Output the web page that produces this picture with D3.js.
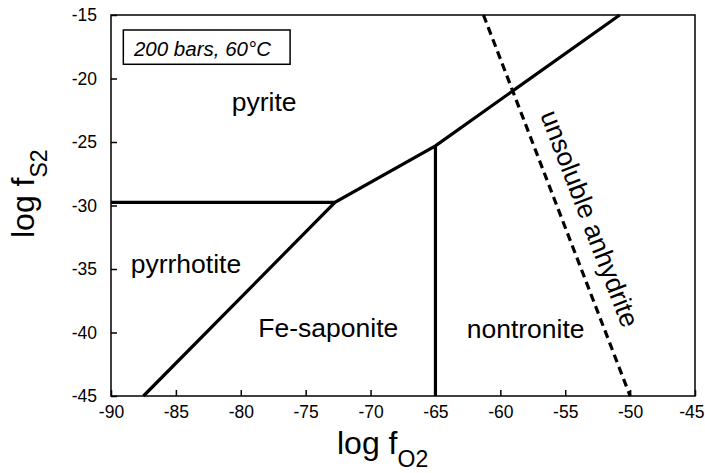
<!DOCTYPE html>
<html>
<head>
<meta charset="utf-8">
<script src="https://cdn.jsdelivr.net/npm/d3@7/dist/d3.min.js"></script>
<style>
  html, body { margin: 0; padding: 0; background: #fff; }
  svg { display: block; }
  text { font-family: "Liberation Sans", Arial, Helvetica, sans-serif; fill: #000; }
</style>
</head>
<body>
<svg id="chart" width="705" height="473"></svg>
<script>
// ---- data ----
const xTicks = [-90, -85, -80, -75, -70, -65, -60, -55, -50, -45];
const yTicks = [-15, -20, -25, -30, -35, -40, -45];
// phase boundaries [log fO2, log fS2]
const pyritePyrrhotite = [[-90, -29.75], [-72.74, -29.75]];
const mainBoundary = [[-87.5, -45], [-72.74, -29.75], [-65, -25.3], [-50.8, -15]];
const saponiteNontronite = [[-65, -25.3], [-65, -45]];
const anhydriteLimit = [[-61.3, -15], [-50, -45]];
const fieldNames = ["pyrite", "pyrrhotite", "Fe-saponite", "nontronite"];
const fieldAnchorX = [-80.7, -88.48, -78.65, -62.59];
const fieldAnchorY = [-22.55, -35.34, -40.33, -40.41];
const anhydriteLabel = "unsoluble anhydrite";
const conditionsLabel = "200 bars, 60°C";

// ---- layout ----
const svg = d3.select("#chart");
const mLeft = 111, mRight = 695, mTop = 15, mBottom = 396;
const x = d3.scaleLinear().domain([-90, -45]).range([mLeft, mRight]);
const y = d3.scaleLinear().domain([-45, -15]).range([mBottom, mTop]);

// frame
svg.append("rect")
  .attr("x", mLeft).attr("y", mTop)
  .attr("width", mRight - mLeft).attr("height", mBottom - mTop)
  .attr("fill", "none").attr("stroke", "#000").attr("stroke-width", 1.5);

// axes (ticks inward)
const xAxis = d3.axisBottom(x).tickValues(xTicks).tickSize(-6).tickPadding(10);
const gx = svg.append("g").attr("transform", `translate(0,${mBottom})`).call(xAxis);
const yAxis = d3.axisLeft(y).tickValues(yTicks).tickSize(-6).tickPadding(14);
const gy = svg.append("g").attr("transform", `translate(${mLeft},0)`).call(yAxis);
[gx, gy].forEach(g => {
  g.select(".domain").remove();
  g.selectAll(".tick line").attr("stroke", "#000").attr("stroke-width", 1.5);
  g.selectAll(".tick text")
    .style("font-family", '"Liberation Sans", Arial, sans-serif')
    .style("font-size", "17.5px").attr("fill", "#000")
    .text(d => String(d));
});
// keep the last x tick label inside the page, as in the reference
gx.selectAll(".tick text").filter(d => d === xTicks[xTicks.length - 1])
  .attr("text-anchor", "end").attr("x", 9);

// boundaries
const line = d3.line().x(d => x(d[0])).y(d => y(d[1]));
const plot = svg.append("g");
[pyritePyrrhotite, mainBoundary, saponiteNontronite].forEach(pts => {
  plot.append("path").attr("d", line(pts))
    .attr("fill", "none").attr("stroke", "#000").attr("stroke-width", 3.2)
    .attr("stroke-linejoin", "miter");
});
plot.append("path").attr("d", line(anhydriteLimit))
  .attr("fill", "none").attr("stroke", "#000").attr("stroke-width", 3.2)
  .attr("stroke-dasharray", "8,5");

// field labels
fieldNames.forEach((name, i) => {
  svg.append("text")
    .attr("x", x(fieldAnchorX[i])).attr("y", y(fieldAnchorY[i]))
    .style("font-size", "26.5px").text(name);
});

// rotated anhydrite label
const ax = x(-56.95), ay = y(-22.85);
const ang = Math.atan2(y(anhydriteLimit[1][1]) - y(anhydriteLimit[0][1]),
                       x(anhydriteLimit[1][0]) - x(anhydriteLimit[0][0])) * 180 / Math.PI;
svg.append("text")
  .attr("transform", `translate(${ax},${ay}) rotate(${ang})`)
  .style("font-size", "26.5px").text(anhydriteLabel);

// conditions box
svg.append("rect")
  .attr("x", x(-89.05)).attr("y", y(-16.18))
  .attr("width", x(-76.2) - x(-89.05)).attr("height", y(-18.88) - y(-16.18))
  .attr("fill", "#fff").attr("stroke", "#000").attr("stroke-width", 1.5);
svg.append("text")
  .attr("x", x(-88.23)).attr("y", y(-18.23))
  .style("font-size", "20.5px").style("font-style", "italic").text(conditionsLabel);

// axis titles
const xt = svg.append("text").attr("x", 337).attr("y", 454).style("font-size", "32px");
xt.append("tspan").text("log f");
xt.append("tspan").attr("dy", 13).style("font-size", "23px").text("O");
xt.append("tspan").style("font-size", "23px").text("2");

const yt = svg.append("text").attr("transform", "translate(34,238) rotate(-90)").style("font-size", "32px");
yt.append("tspan").text("log f");
yt.append("tspan").attr("dy", 13).style("font-size", "23px").text("S");
yt.append("tspan").style("font-size", "23px").text("2");
</script>
</body>
</html>
